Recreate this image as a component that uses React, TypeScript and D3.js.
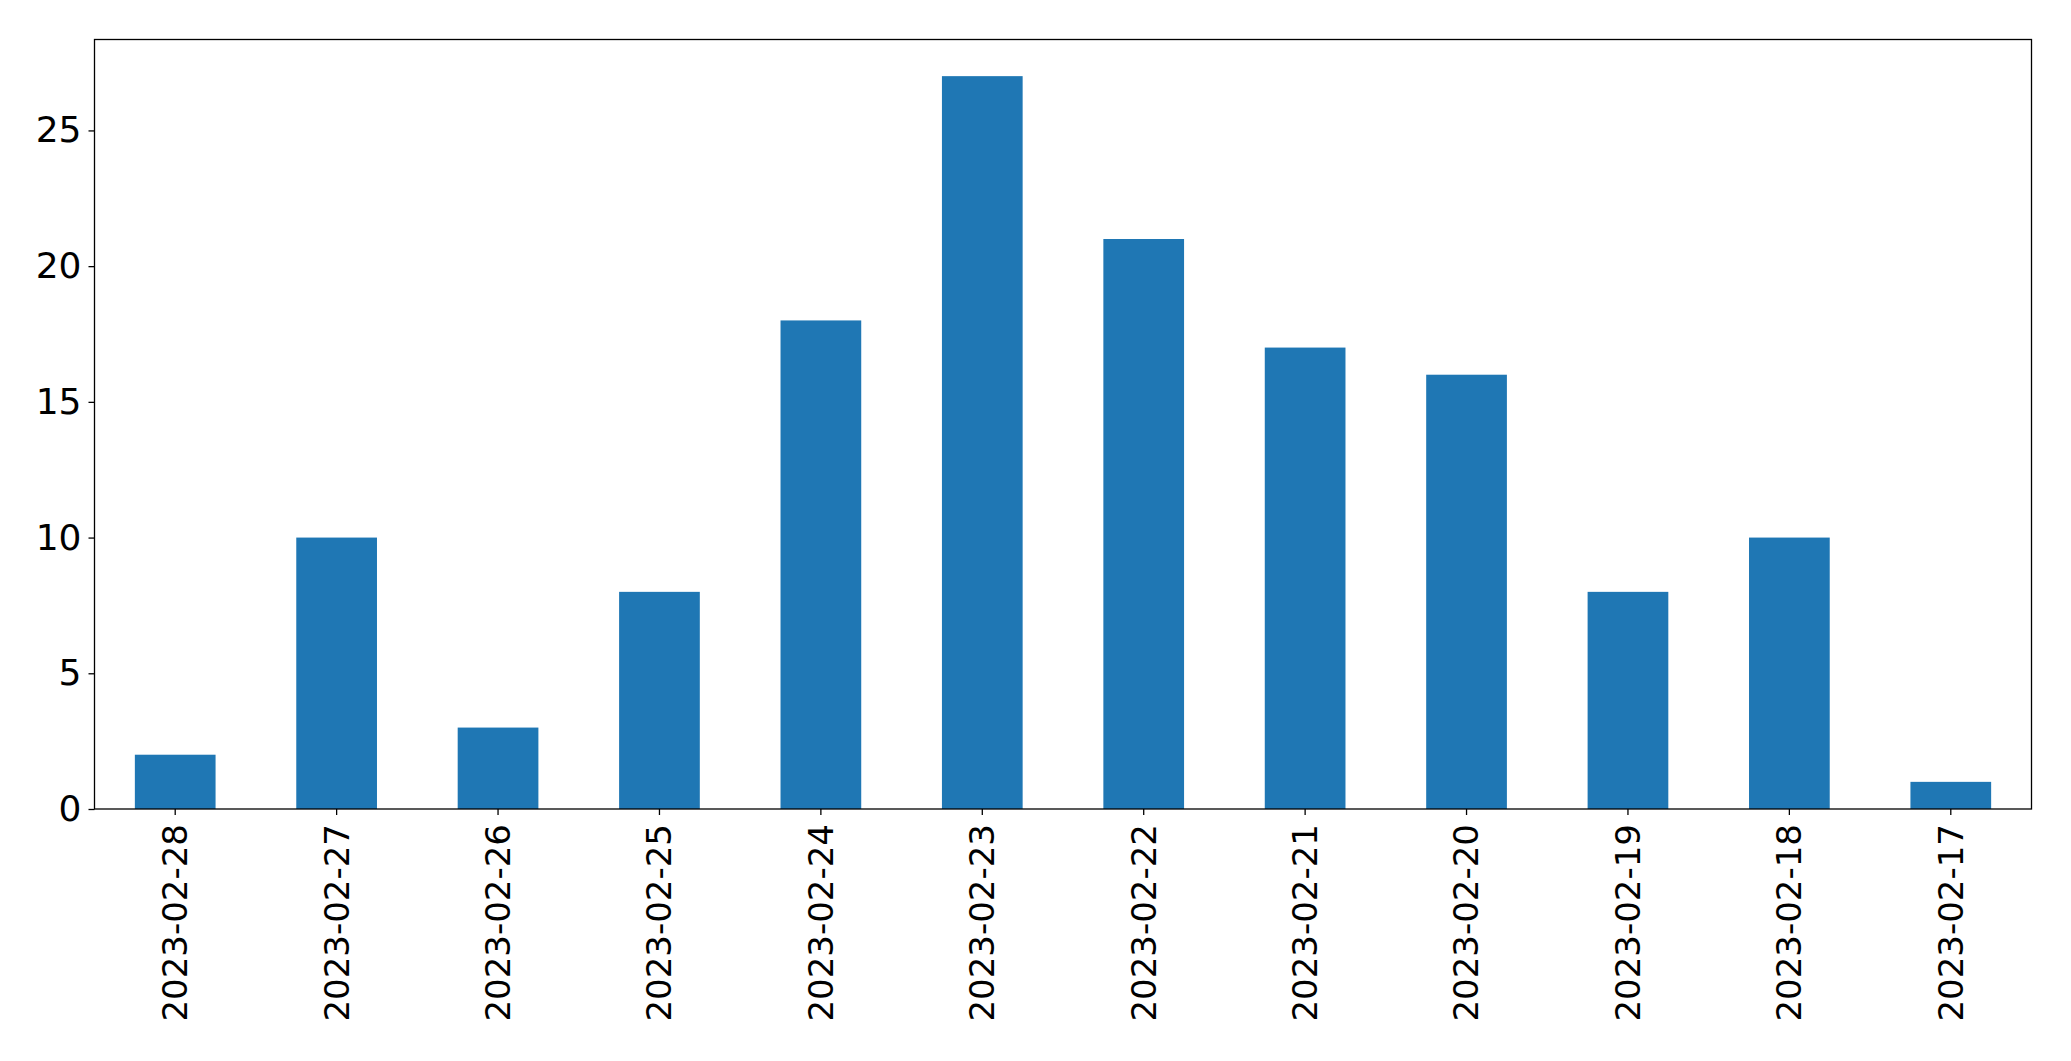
import { useEffect, useRef } from "react";
import * as d3 from "d3";

const dates = [
  "2023-02-28",
  "2023-02-27",
  "2023-02-26",
  "2023-02-25",
  "2023-02-24",
  "2023-02-23",
  "2023-02-22",
  "2023-02-21",
  "2023-02-20",
  "2023-02-19",
  "2023-02-18",
  "2023-02-17",
];
const counts = [2, 10, 3, 8, 18, 27, 21, 17, 16, 8, 10, 1];
const yTicks = [0, 5, 10, 15, 20, 25];

const WIDTH = 2071;
const HEIGHT = 1061;
const FONT = "'DejaVu Sans', sans-serif";

export default function App() {
  const svgRef = useRef<SVGSVGElement>(null);

  useEffect(() => {
    if (!svgRef.current) return;
    const margin = { top: 39.5, right: WIDTH - 2031.5, bottom: HEIGHT - 809, left: 94.5 };
    const innerW = WIDTH - margin.left - margin.right;
    const innerH = HEIGHT - margin.top - margin.bottom;

    const svg = d3.select(svgRef.current);
    svg.selectAll("*").remove();

    const g = svg.append("g").attr("transform", `translate(${margin.left},${margin.top})`);

    const x = d3.scaleBand<string>().domain(dates).range([0, innerW]).paddingInner(0.5).paddingOuter(0.25);
    const yMax = d3.max(counts)! * 1.05;
    const y = d3.scaleLinear().domain([0, yMax]).range([innerH, 0]);

    g.append("g")
      .selectAll("rect")
      .data(counts)
      .join("rect")
      .attr("x", (_, i) => x(dates[i])!)
      .attr("y", (d) => y(d))
      .attr("width", x.bandwidth())
      .attr("height", (d) => innerH - y(d))
      .attr("fill", "#1f77b4");

    // frame
    g.append("rect")
      .attr("x", 0)
      .attr("y", 0)
      .attr("width", innerW)
      .attr("height", innerH)
      .attr("fill", "none")
      .attr("stroke", "#000")
      .attr("stroke-width", 1.3);

    const yAxis = g
      .append("g")
      .call(d3.axisLeft(y).tickValues(yTicks).tickSize(6).tickPadding(7).tickFormat(d3.format("d")));
    yAxis.select(".domain").remove();
    yAxis.selectAll("line").attr("stroke-width", 1.3);
    yAxis.selectAll("text").attr("font-size", 36).attr("font-family", FONT).attr("fill", "#000");

    const xAxis = g
      .append("g")
      .attr("transform", `translate(0,${innerH})`)
      .call(d3.axisBottom(x).tickSize(6).tickPadding(0));
    xAxis.select(".domain").remove();
    xAxis.selectAll("line").attr("stroke-width", 1.3);
    xAxis
      .selectAll("text")
      .attr("font-size", 34)
      .attr("font-family", FONT)
      .attr("fill", "#000")
      .attr("text-anchor", "end")
      .attr("y", 0)
      .attr("dy", "0.35em")
      .attr("transform", "translate(0,15) rotate(-90)");
  }, []);

  return (
    <div style={{ position: "absolute", left: 0, top: 0, background: "#fff" }}>
      <svg ref={svgRef} width={WIDTH} height={HEIGHT} style={{ display: "block" }} />
    </div>
  );
}
